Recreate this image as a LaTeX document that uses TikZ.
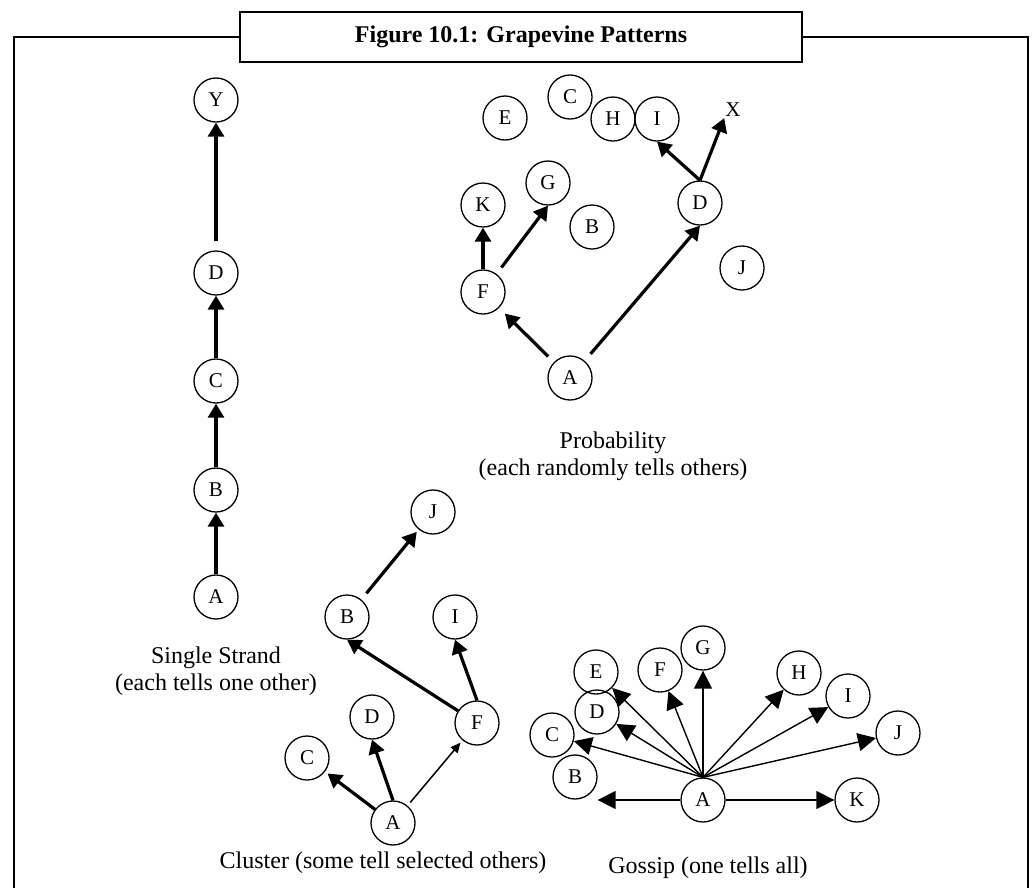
\documentclass[tikz,border=0pt]{standalone}
\usepackage{fontspec}
\setmainfont{Liberation Serif}
\usepackage{tikz}
\usetikzlibrary{arrows.meta}

\begin{document}
\begin{tikzpicture}[x=1pt,y=-1pt,
    person/.style={draw,circle,line width=1.3pt,minimum size=44pt,inner sep=0pt,font=\fontsize{21}{24}\selectfont},
    loose/.style={inner sep=1pt,font=\fontsize{21}{24}\selectfont},
    caption/.style={align=center,font=\fontsize{24}{27}\selectfont},
    tells/.style={line width=3.2pt,-{Triangle[length=14pt,width=16pt]}},
    weak/.style={line width=1.5pt,-{Triangle[length=10pt,width=9pt]}},
    fan/.style={line width=1.4pt,-{Triangle[length=18pt,width=18pt]}}]
        \useasboundingbox (0,0) rectangle (1033,887);
        \node[draw,line width=2pt,minimum width=562pt,minimum height=50pt,font=\bfseries\fontsize{24}{27}\selectfont] (title) at (521,37) {Figure 10.1: Grapevine Patterns};
        \draw[line width=2pt] (title.west) -- (14,37) -- (14,890);
        \draw[line width=2pt] (title.east) -- (1028,37) -- (1028,890);
        % single strand
        \node[person] (sA) at (216,597) {A};
        \node[person] (sB) at (216,490) {B};
        \node[person] (sC) at (216,381) {C};
        \node[person] (sD) at (216,273) {D};
        \node[person] (sY) at (216,100) {Y};
        \draw[tells] (sA) -- (sB);
        \draw[tells] (sB) -- (sC);
        \draw[tells] (sC) -- (sD);
        \draw[tells,shorten <=9pt] (sD) -- (sY);
        \node[caption] (sLabel) at (216,671) {Single Strand\\(each tells one other)};
        % probability
        \node[person] (pE) at (505,118) {E};
        \node[person] (pC) at (570,97) {C};
        \node[person] (pH) at (613,119) {H};
        \node[person] (pI) at (657,119) {I};
        \node[loose] (pX) at (733,110) {X};
        \node[person] (pD) at (700,203) {D};
        \node[person] (pK) at (483,205) {K};
        \node[person] (pG) at (548,183) {G};
        \node[person] (pB) at (592,227) {B};
        \node[person] (pJ) at (742,268) {J};
        \node[person] (pF) at (483,292) {F};
        \node[person] (pA) at (570,378) {A};
        \draw[tells,shorten <=8pt,shorten >=8pt] (pA) -- (pF);
        \draw[tells,shorten <=9pt] (pA) -- (pD.south);
        \draw[tells] (pF) -- (pK);
        \draw[tells,shorten <=8pt] (pF) -- (pG.south);
        \draw[tells] (pD.north) -- (pI.south);
        \draw[tells] (pD.north) -- (pX.south west);
        \node[caption] (pLabel) at (613,456) {Probability\\(each randomly tells others)};
        % cluster
        \node[person] (cJ) at (433,512) {J};
        \node[person] (cB) at (347,617) {B};
        \node[person] (cI) at (455,617) {I};
        \node[person] (cD) at (372,717) {D};
        \node[person] (cF) at (477,723) {F};
        \node[person] (cC) at (307,758) {C};
        \node[person] (cA) at (393,823) {A};
        \draw[tells,shorten >=3pt] (cA) -- (cC);
        \draw[tells] (cA.north) -- (cD.south);
        \draw[weak,shorten <=4pt,shorten >=3pt] (cA) -- (cF);
        \draw[tells] (cF) -- (cB.south);
        \draw[tells] (cF.north) -- (cI.south);
        \draw[tells,shorten <=8pt,shorten >=3pt] (cB) -- (cJ);
        \node[caption] (cLabel) at (383,863) {Cluster (some tell selected others)};
        % gossip
        \node[person] (gG) at (703,648) {G};
        \node[person] (gE) at (596,672) {E};
        \node[person] (gF) at (660,670) {F};
        \node[person] (gH) at (799,673) {H};
        \node[person] (gI) at (848,696) {I};
        \node[person] (gD) at (597,712) {D};
        \node[person] (gC) at (552,735) {C};
        \node[person] (gJ) at (898,733) {J};
        \node[person] (gB) at (575,777) {B};
        \node[person] (gA) at (703,800) {A};
        \node[person] (gK) at (857,800) {K};
        \draw[fan] (gA.north) -- (gC);
        \draw[fan] (gA.north) -- (gD);
        \draw[fan] (gA.north) -- (gE);
        \draw[fan] (gA.north) -- (gF);
        \draw[fan] (gA.north) -- (gG);
        \draw[fan] (gA.north) -- (gH);
        \draw[fan] (gA.north) -- (gI);
        \draw[fan] (gA.north) -- (gJ);
        \draw[fan] (gA) -- (gA -| gB.east);
        \draw[fan] (gA) -- (gK);
        \node[caption] (gLabel) at (708,868) {Gossip (one tells all)};
    \end{tikzpicture}
\end{document}
